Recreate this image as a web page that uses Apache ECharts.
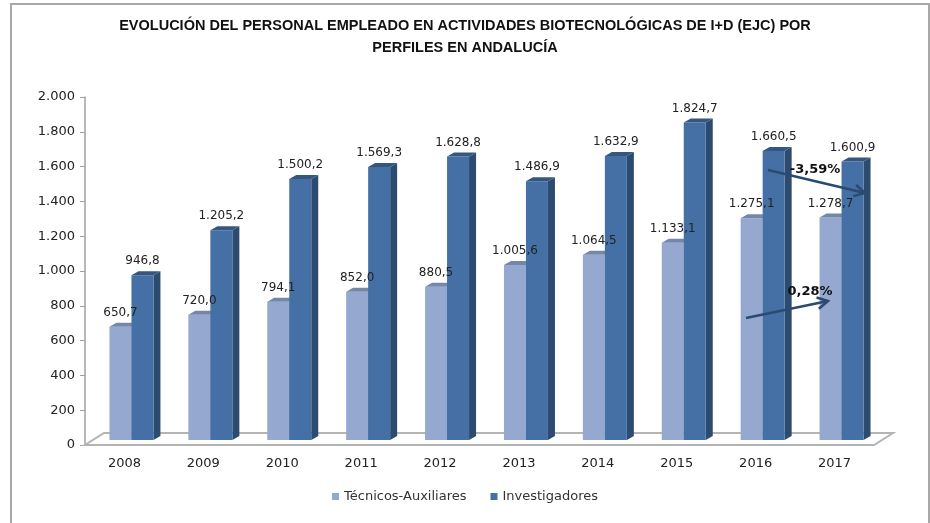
<!DOCTYPE html>
<html>
<head>
<meta charset="utf-8">
<script src="https://cdn.jsdelivr.net/npm/echarts@6/dist/echarts.min.js"></script>
<style>
  html, body { margin: 0; padding: 0; background: #fff; }
  #chart { width: 930px; height: 523px; }
</style>
</head>
<body>
<div id="chart"></div>
<script>
const years = ["2008", "2009", "2010", "2011", "2012", "2013", "2014", "2015", "2016", "2017"];
const tecnicos = [650.7, 720.0, 794.1, 852.0, 880.5, 1005.6, 1064.5, 1133.1, 1275.1, 1278.7];
const investigadores = [946.8, 1205.2, 1500.2, 1569.3, 1628.8, 1486.9, 1632.9, 1824.7, 1660.5, 1600.9];

const FONT = "DejaVu Sans";

// spanish number format: 1.500,2
const fmt = (v, dec) => {
  const parts = v.toFixed(dec).split(".");
  const int = parts[0].replace(/\B(?=(\d{3})+(?!\d))/g, ".");
  return dec ? int + "," + parts[1] : int;
};

// 3d bar drawn in the middle plane of the floor
const bar3d = (side, colors) => (params, api) => {
  const idx = api.value(0);
  const v = api.value(1);
  const base = api.coord([idx, 0]);
  const top = api.coord([idx, v]);
  const bw = 22, sx = 7, sy = -5, dx = 7, dy = -4;
  const x0 = base[0] + sx + (side === 0 ? -bw : 0);
  const x1 = x0 + bw;
  const yb = base[1] + sy;
  const yt = top[1] + sy;
  return {
    type: "group",
    children: [
      {
        type: "polygon",
        shape: { points: [[x1, yb], [x1 + dx, yb + dy], [x1 + dx, yt + dy], [x1, yt]] },
        style: { fill: colors.side }
      },
      {
        type: "rect",
        shape: { x: x0, y: yt, width: bw, height: yb - yt },
        style: { fill: colors.front }
      },
      {
        type: "polygon",
        shape: { points: [[x0, yt], [x1, yt], [x1 + dx, yt + dy], [x0 + dx, yt + dy]] },
        style: { fill: colors.top }
      },
      {
        type: "text",
        z2: 100,
        style: {
          x: x0 + bw / 2,
          y: yt - 8,
          text: fmt(v, 1),
          align: "center",
          verticalAlign: "bottom",
          fill: "#222",
          font: "12px " + FONT
        }
      }
    ]
  };
};

// floor of the 3d chart
const floor = (params, api) => {
  const cs = params.coordSys;
  const x0 = cs.x, x1 = cs.x + cs.width, y = cs.y + cs.height;
  const fx = 19, fy = -12;
  return {
    type: "polygon",
    shape: { points: [[x0, y], [x1, y], [x1 + fx, y + fy], [x0 + fx, y + fy]] },
    style: { fill: "#fff", stroke: "#b4b4b4", lineWidth: 2 }
  };
};

const arrow = (p0, p1) => {
  const ang = Math.atan2(p1[1] - p0[1], p1[0] - p0[0]);
  const L = 12, a = 0.5;
  const h1 = [p1[0] - L * Math.cos(ang - a), p1[1] - L * Math.sin(ang - a)];
  const h2 = [p1[0] - L * Math.cos(ang + a), p1[1] - L * Math.sin(ang + a)];
  return [
    { type: "polyline", z: 10, shape: { points: [p0, p1] }, style: { stroke: "#2b4a70", lineWidth: 2.5 } },
    { type: "polyline", z: 10, shape: { points: [h1, p1, h2] }, style: { stroke: "#2b4a70", lineWidth: 2.5, fill: null } }
  ];
};

const chart = echarts.init(document.getElementById("chart"));

const option = {
  animation: false,
  title: {
    text: "EVOLUCIÓN DEL PERSONAL EMPLEADO EN ACTIVIDADES BIOTECNOLÓGICAS DE I+D (EJC) POR\nPERFILES EN ANDALUCÍA",
    left: "center",
    top: 10,
    textStyle: {
      fontFamily: "Liberation Sans",
      fontSize: 14.5,
      fontWeight: "bold",
      color: "#111",
      lineHeight: 22
    }
  },
  legend: {
    bottom: 15,
    left: "center",
    itemWidth: 7,
    itemHeight: 7,
    itemGap: 24,
    icon: "rect",
    textStyle: { fontFamily: FONT, fontSize: 13, color: "#333" },
    data: ["Técnicos-Auxiliares", "Investigadores"]
  },
  grid: { left: 85, right: 56, top: 97, bottom: 78 },
  xAxis: {
    type: "category",
    data: years,
    axisLine: { show: false },
    axisTick: { show: false },
    axisLabel: { fontFamily: FONT, fontSize: 13, color: "#222", margin: 12 }
  },
  yAxis: {
    type: "value",
    min: 0,
    max: 2000,
    interval: 200,
    splitLine: { show: false },
    axisLine: { show: true, lineStyle: { color: "#a0a0a0", width: 1.5 } },
    axisTick: { show: true, length: 5, lineStyle: { color: "#a0a0a0" } },
    axisLabel: {
      fontFamily: FONT,
      fontSize: 13,
      color: "#222",
      margin: 10,
      formatter: (v) => fmt(v, 0)
    }
  },
  series: [
    {
      type: "custom",
      name: "floor",
      silent: true,
      z: 1,
      renderItem: floor,
      data: [[0, 0]]
    },
    {
      type: "custom",
      name: "Técnicos-Auxiliares",
      z: 2,
      itemStyle: { color: "#95a9d0" },
      renderItem: bar3d(0, { front: "#95a9d0", side: "#6f82a6", top: "#7487aa" }),
      encode: { x: 0, y: 1 },
      data: tecnicos.map((v, i) => [i, v])
    },
    {
      type: "custom",
      name: "Investigadores",
      z: 2,
      itemStyle: { color: "#4470a6" },
      renderItem: bar3d(1, { front: "#4470a6", side: "#2d4a6f", top: "#36567f" }),
      encode: { x: 0, y: 1 },
      data: investigadores.map((v, i) => [i, v])
    }
  ],
  graphic: [
    {
      type: "rect",
      silent: true,
      shape: { x: 11, y: 4, width: 918, height: 540 },
      style: { fill: null, stroke: "#a8a8a8", lineWidth: 2 }
    },
    ...arrow([746, 318], [828, 301]),
    ...arrow([768, 170], [865, 193]),
    {
      type: "text",
      z: 11,
      style: { x: 810, y: 292, text: "0,28%", align: "center", verticalAlign: "middle", font: "bold 13px " + FONT, fill: "#111" }
    },
    {
      type: "text",
      z: 11,
      style: { x: 815, y: 170, text: "-3,59%", align: "center", verticalAlign: "middle", font: "bold 13px " + FONT, fill: "#111" }
    }
  ]
};

option && chart.setOption(option);
</script>
</body>
</html>
